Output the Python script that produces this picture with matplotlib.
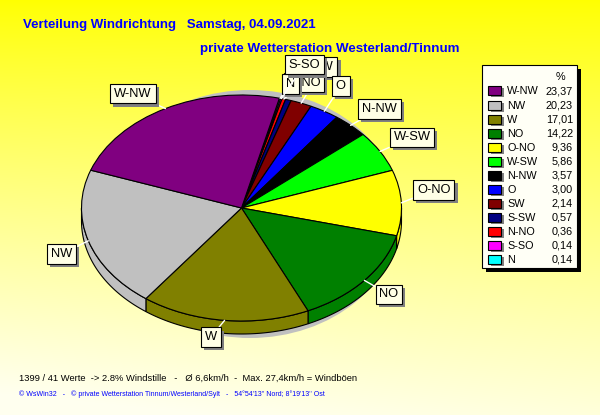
import numpy as np
import matplotlib
matplotlib.use('Agg')
import matplotlib.pyplot as plt
from matplotlib.patches import Ellipse, Rectangle, Polygon
import matplotlib.patheffects as pe

plt.rcParams['font.family'] = ['Liberation Sans', 'DejaVu Sans']

# ---------------- data ----------------
directions = ['W-NW', 'NW', 'W', 'NO', 'O-NO', 'W-SW', 'N-NW', 'O', 'SW', 'S-SW', 'N-NO', 'S-SO', 'N']
percents = [23.37, 20.23, 17.01, 14.22, 9.36, 5.86, 3.57, 3.00, 2.14, 0.57, 0.36, 0.14, 0.14]
colors = ['#800080', '#c0c0c0', '#808000', '#008000', '#ffff00', '#00ff00', '#000000',
          '#0000ff', '#800000', '#000080', '#ff0000', '#ff00ff', '#00ffff']
title = 'Verteilung Windrichtung   Samstag, 04.09.2021'
subtitle = 'private Wetterstation Westerland/Tinnum'
footer1 = '1399 / 41 Werte  -> 2.8% Windstille   -   \u00d8 6,6km/h  -  Max. 27,4km/h = Windb\u00f6en'
footer2 = ('\u00a9 WsWin32   -   \u00a9 private Wetterstation Tinnum/Westerland/Sylt   -   '
           "54\u00b054'13'' Nord; 8\u00b019'13'' Ost")

# ---------------- layout ----------------
W, H = 600, 415
cx, cy = 241.5, 208.0      # pie centre (px)
rx, ry = 160.0, 113.0      # pie radii (px)
depth = 13.0               # side wall height (px)
start_angle = 76.3
# label centre offsets from slice anchor (px, +x right, +y down) and drawing order
label_offsets = {
    'W-NW': (-32.5, -15), 'NW': (-26.5, 13), 'W': (-14, 17), 'NO': (24.6, 14),
    'O-NO': (32.5, -13), 'W-SW': (32, -14), 'N-NW': (29, -16.5), 'O': (16.5, -25),
    'SW': (22, -36), 'N-NO': (20, -16.5), 'N': (10, -14.5),
    'S-SO': (23, -34),
}
label_z = {'SW': 5, 'O': 6, 'N-NO': 7, 'N': 8, 'S-SO': 9}

fig = plt.figure(figsize=(W / 100, H / 100), dpi=100)

# background gradient
bg = fig.add_axes([0, 0, 1, 1])
yy = np.linspace(0, 1, H)[:, None]
xx = np.linspace(0, 1, W)[None, :]
t = np.clip(0.85 * yy + 0.15 * yy * (1 - xx) + 0.05 * yy, 0, 1)
grad = np.zeros((H, W, 3))
grad[..., 0] = 1.0
grad[..., 1] = 1.0
grad[..., 2] = 0.94 * t ** 0.85
bg.imshow(grad, extent=(0, W, H, 0), aspect='auto', interpolation='bilinear')
bg.set_xlim(0, W)
bg.set_ylim(H, 0)
bg.axis('off')

# titles
bg.text(23, 25, title, color='#0000ff', fontsize=9.5, fontweight='bold', ha='left', va='center')
bg.text(200, 49, subtitle, color='#0000ff', fontsize=9.6, fontweight='bold', ha='left', va='center')
bg.text(19, 378, footer1, color='black', fontsize=6.75, ha='left', va='center')
bg.text(19, 394, footer2, color='#0000ff', fontsize=5.05, ha='left', va='center')

# legend
lx, ly, lw_, lh = 482, 65, 95, 203
bg.add_patch(Rectangle((lx + 4, ly + 4), lw_, lh, fc='black', ec='none', zorder=2))
bg.add_patch(Rectangle((lx, ly), lw_, lh, fc='#fffff6', ec='black', lw=0.8, zorder=3))
bg.text(560, 77, '%', fontsize=7.8, ha='center', va='center', zorder=4)
for i, (name, val, col) in enumerate(zip(directions, percents, colors)):
    y = 91 + 14.02 * i
    bg.add_patch(Rectangle((490.5, y - 2.5), 13, 9, fc='#808080', ec='none', zorder=4))
    bg.add_patch(Rectangle((488, y - 4.5), 13, 9, fc=col, ec='black', lw=0.8, zorder=5))
    bg.text(507, y + 0.5, name, fontsize=7.8, ha='left', va='center', zorder=5)
    bg.text(573, y + 0.5, f'{val:.2f}'.replace('.', ','), fontsize=7.8, ha='right', va='center', zorder=5)

# pie axes: unit circle maps to ellipse
xl = (-1.2, 1.2)
yl = (-1.35, 1.2)
left_px = cx + xl[0] * rx
width_px = (xl[1] - xl[0]) * rx
top_px = cy - yl[1] * ry
height_px = (yl[1] - yl[0]) * ry
pax = fig.add_axes([left_px / W, 1 - (top_px + height_px) / H, width_px / W, height_px / H])

pie_names = directions[::-1]
pie_vals = percents[::-1]
pie_cols = colors[::-1]
wedges, _ = pax.pie(pie_vals, colors=pie_cols, startangle=start_angle, counterclock=False,
                    radius=1.0, center=(0, 0),
                    wedgeprops=dict(edgecolor='black', linewidth=0.8))
pax.set_aspect('auto')
pax.set_xlim(*xl)
pax.set_ylim(*yl)
pax.axis('off')

d = depth / ry
# shadow
pax.add_patch(Ellipse(((250 - cx) / rx, -(214 - cy) / ry), 2 * 150 / rx, 2 * 124 / ry,
                      fc='#c0c0c0', ec='none', zorder=0.5))
# side walls
for w, c in zip(wedges, pie_cols):
    t1, t2 = w.theta1, w.theta2
    for k in (-720, -360, 0, 360):
        a = max(t1, 180 + k)
        b = min(t2, 360 + k)
        if b > a:
            th = np.radians(np.linspace(a, b, 120))
            xs, ys = np.cos(th), np.sin(th)
            poly = np.column_stack([np.r_[xs, xs[::-1]], np.r_[ys, ys[::-1] - d]])
            pax.add_patch(Polygon(poly, closed=True, fc=c, ec='black', lw=0.8, zorder=0.9))

# labels
for w, name in zip(wedges, pie_names):
    if name not in label_offsets:
        continue
    mid = np.radians((w.theta1 + w.theta2) / 2)
    ax_, ay_ = np.cos(mid), np.sin(mid)
    dx, dy = label_offsets[name]
    ann = pax.annotate(name, xy=(ax_, ay_), xytext=(dx, -dy), textcoords='offset pixels',
                       ha='center', va='center', fontsize=9.3, color='black',
                       bbox=dict(boxstyle='square,pad=0.3', fc='#ffffe6', ec='black', lw=0.8),
                       arrowprops=dict(arrowstyle='-', color='white', lw=1.0,
                                       shrinkA=0, shrinkB=0),
                       zorder=label_z.get(name, 5), annotation_clip=False)
    ann.get_bbox_patch().set_path_effects([
        pe.SimplePatchShadow(offset=(2.2, -2.2), shadow_rgbFace='#808080', alpha=1.0),
        pe.Normal()])

fig.savefig('out.png', dpi=100)
